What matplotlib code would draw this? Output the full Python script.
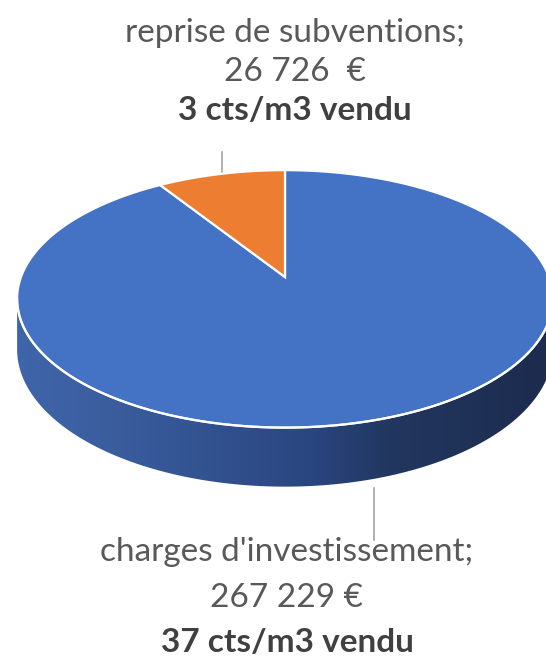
import numpy as np
import matplotlib
matplotlib.use('Agg')
import matplotlib.pyplot as plt
from matplotlib.patches import Polygon
from matplotlib.colors import LinearSegmentedColormap

# data
labels = ["charges d'investissement", "reprise de subventions"]
values = [267229, 26726]
cts_m3 = [37, 3]
colors = ['#4472C4', '#ED7D31']

# pixel geometry of the 3d pie (perspective: back of the disc is farther)
cx, cy = 285, 277
A, B = 264, 125
k = 0.17
depth = 49

plt.rcParams['font.family'] = ['Lato', 'DejaVu Sans']

fig = plt.figure(figsize=(5.46, 6.57), dpi=100)
ax = fig.add_axes([0, 0, 1, 1])
ax.set_xlim(0, 546)
ax.set_ylim(657, 0)
ax.axis('off')


def rim(t, dz=0.0):
    w = 1 + k * np.sin(t)
    return cx + A * np.cos(t) / w, cy - B * np.sin(t) / w + dz / w


# side of the cylinder (only front part visible)
tL = np.pi + np.arcsin(k)
tR = 2 * np.pi - np.arcsin(k)
ts = np.linspace(tL, tR, 300)
xt, yt = rim(ts)
xb, yb = rim(ts, depth)
side_pts = np.column_stack([np.r_[xt, xb[::-1]], np.r_[yt, yb[::-1]]])
side = Polygon(side_pts, closed=True, facecolor='none', edgecolor='none')
ax.add_patch(side)
side_cmap = LinearSegmentedColormap.from_list(
    'side', [(0, '#3f65aa'), (0.2, '#3a5c9c'), (0.4, '#304f8c'),
             (0.55, '#2a4680'), (0.7, '#22375f'), (1, '#1c2b4e')])
grad = np.linspace(0, 1, 256).reshape(1, -1)
im = ax.imshow(grad, cmap=side_cmap, aspect='auto',
               extent=[xt.min(), xt.max(), yb.max(), yt.min() - 5], zorder=1)
im.set_clip_path(side)

# top face slices, excel starts at 12 o'clock going clockwise
total = sum(values)
start = np.pi / 2
for val, col in zip(values, colors):
    sweep = 2 * np.pi * val / total
    tt = np.linspace(start, start - sweep, 400)
    xs, ys = rim(tt)
    pts = np.column_stack([np.r_[cx, xs], np.r_[cy, ys]])
    ax.add_patch(Polygon(pts, closed=True, facecolor=col, edgecolor='white',
                         linewidth=1.6, zorder=2))
    start -= sweep

# white highlight on the front rim
xf, yf = rim(ts)
ax.plot(xf, yf, color='white', lw=1.6, zorder=3, alpha=0.9)

# leader lines
ax.plot([222, 222], [152, 173], color='#a6a6a6', lw=1.2, zorder=0)
ax.plot([374, 374], [488, 540], color='#a6a6a6', lw=1.2, zorder=0)


def fmt(v):
    return f"{v:,}".replace(',', ' ')


fs = 24
# labels
ax.text(295, 33, labels[1] + ';', ha='center', va='center', fontsize=fs,
        color='#595959')
ax.text(295, 72, fmt(values[1]) + '  €', ha='center', va='center',
        fontsize=fs, color='#595959')
ax.text(295, 110, f"{cts_m3[1]} cts/m3 vendu", ha='center', va='center',
        fontsize=fs, color='#404040', fontweight='bold')

ax.text(287, 552, labels[0] + ';', ha='center', va='center', fontsize=fs,
        color='#595959')
ax.text(287, 598, fmt(values[0]) + ' €', ha='center', va='center',
        fontsize=fs, color='#595959')
ax.text(287, 642, f"{cts_m3[0]} cts/m3 vendu", ha='center', va='center',
        fontsize=fs, color='#404040', fontweight='bold')

fig.savefig('out.png', dpi=100, facecolor='white')
